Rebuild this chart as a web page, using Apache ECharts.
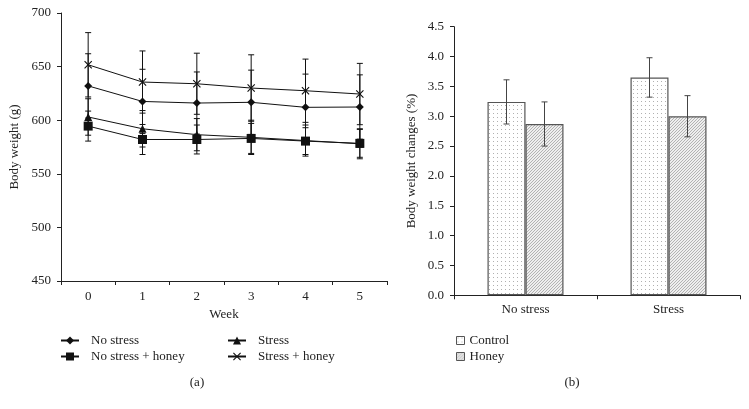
<!DOCTYPE html>
<html>
<head>
<meta charset="utf-8">
<script src="https://cdn.jsdelivr.net/npm/echarts@6/dist/echarts.min.js"></script>
<style>html,body{margin:0;padding:0;background:#fff}#c{width:749px;height:409px}</style>
</head>
<body>
<div id="c"></div>
<script>
// ---- Data (a) ----
const weeks = ['0', '1', '2', '3', '4', '5'];
const noStress = [632, 617.5, 616, 616.7, 612, 612.3];
const noStressErr = [30, 30, 29, 30, 31, 30];
const stress = [603, 592, 586.5, 584, 581, 578];
const stressErr = [17, 17, 15, 16, 14.5, 14];
const noStressHoney = [594.5, 582, 582, 583, 580.5, 578.4];
const noStressHoneyErr = [14, 14, 13.5, 14, 12.5, 13];
const stressHoney = [651.7, 635.6, 634, 630, 627.5, 624.4];
const stressHoneyErr = [30, 29, 28.5, 31, 29.5, 28.6];

// ---- Data (b) ----
const groups = ['No stress', 'Stress'];
const control = [3.24, 3.65];
const controlErr = [0.37, 0.33];
const honey = [2.87, 3.00];
const honeyErr = [0.37, 0.345];

const FONT = 'Liberation Serif';
const TXT = '#222';

function makeDots() {
  const c = document.createElement('canvas'); c.width = 4; c.height = 4;
  const g = c.getContext('2d');
  g.fillStyle = '#fff'; g.fillRect(0, 0, 4, 4);
  g.fillStyle = '#b0b0b0'; g.fillRect(1, 1, 1, 1);
  return c;
}
function makeHatch() {
  const s = 3;
  const c = document.createElement('canvas'); c.width = s; c.height = s;
  const g = c.getContext('2d');
  g.fillStyle = '#eeeeee'; g.fillRect(0, 0, s, s);
  g.strokeStyle = '#a2a2a2'; g.lineWidth = 0.8;
  g.beginPath();
  g.moveTo(-1, s + 1); g.lineTo(s + 1, -1);
  g.moveTo(-1 - s, s + 1); g.lineTo(1, -1);
  g.moveTo(s - 1, 2 * s + 1); g.lineTo(2 * s + 1, s - 1);
  g.stroke();
  return c;
}
const dotFill = { image: makeDots(), repeat: 'repeat' };
const hatchFill = { image: makeHatch(), repeat: 'repeat' };

const xSym = 'path://M0,1L1,0L5,4L9,0L10,1L6,5L10,9L9,10L5,6L1,10L0,9L4,5Z';

function errData(vals, errs) {
  return vals.map((v, i) => [i, v + errs[i], v - errs[i]]);
}
function errRender(offset, color, cap) {
  return function (params, api) {
    const i = api.value(0);
    const p1 = api.coord([i, api.value(1)]);
    const p2 = api.coord([i, api.value(2)]);
    const cx = p1[0] + offset;
    const st = { stroke: color, lineWidth: 1 };
    return {
      type: 'group', children: [
        { type: 'line', shape: { x1: cx, y1: p1[1], x2: cx, y2: p2[1] }, style: st },
        { type: 'line', shape: { x1: cx - cap, y1: p1[1], x2: cx + cap, y2: p1[1] }, style: st },
        { type: 'line', shape: { x1: cx - cap, y1: p2[1], x2: cx + cap, y2: p2[1] }, style: st }
      ]
    };
  };
}
function lineSeries(name, data, symbol, size) {
  return {
    name, type: 'line', xAxisIndex: 0, yAxisIndex: 0, data,
    symbol, symbolSize: size, z: 3,
    lineStyle: { color: '#111', width: 1 },
    itemStyle: { color: '#111' },
    emphasis: { disabled: true }, animation: false
  };
}
function errSeries(vals, errs, xi, yi, offset, color, cap) {
  return {
    type: 'custom', xAxisIndex: xi, yAxisIndex: yi,
    data: errData(vals, errs), renderItem: errRender(offset, color, cap),
    encode: { x: 0, y: [1, 2] }, z: 4, silent: true, animation: false
  };
}

const axisLine = { show: true, lineStyle: { color: '#222', width: 1 } };
const axisTick = { show: true, inside: false, length: 4, lineStyle: { color: '#222' } };
const labelStyle = { color: TXT, fontFamily: FONT, fontSize: 13 };
const BW = 38;

const chart = echarts.init(document.getElementById('c'), null, { renderer: 'canvas' });
chart.setOption({
  animation: false,
  backgroundColor: '#fff',
  textStyle: { fontFamily: FONT },
  grid: [
    { left: 61, top: 13, width: 326, height: 268 },
    { left: 454, top: 26.7, width: 286, height: 268.6 }
  ],
  xAxis: [
    {
      gridIndex: 0, type: 'category', data: weeks, boundaryGap: true,
      axisLine, axisTick, axisLabel: Object.assign({ margin: 9 }, labelStyle),
      splitLine: { show: false },
      name: 'Week', nameLocation: 'middle', nameGap: 27,
      nameTextStyle: labelStyle
    },
    {
      gridIndex: 1, type: 'category', data: groups, boundaryGap: true,
      axisLine, axisTick, axisLabel: Object.assign({ margin: 8 }, labelStyle),
      splitLine: { show: false }
    }
  ],
  yAxis: [
    {
      gridIndex: 0, type: 'value', min: 450, max: 700, interval: 50,
      axisLine, axisTick, axisLabel: Object.assign({ margin: 10 }, labelStyle),
      splitLine: { show: false },
      name: 'Body weight (g)', nameLocation: 'middle', nameRotate: 90, nameGap: 40,
      nameTextStyle: labelStyle
    },
    {
      gridIndex: 1, type: 'value', min: 0, max: 4.5, interval: 0.5,
      axisLine, axisTick,
      axisLabel: Object.assign({ margin: 10, formatter: v => v.toFixed(1) }, labelStyle),
      splitLine: { show: false },
      name: 'Body weight changes (%)', nameLocation: 'middle', nameRotate: 90, nameGap: 36,
      nameTextStyle: labelStyle
    }
  ],
  legend: [
    {
      data: ['No stress', 'No stress + honey'], orient: 'vertical', left: 60, top: 334,
      padding: 0, itemGap: 3, itemWidth: 18, itemHeight: 10,
      textStyle: Object.assign({ padding: [0, 0, 0, 7] }, labelStyle), selectedMode: false
    },
    {
      data: ['Stress', 'Stress + honey'], orient: 'vertical', left: 227, top: 334,
      padding: 0, itemGap: 3, itemWidth: 18, itemHeight: 10,
      textStyle: Object.assign({ padding: [0, 0, 0, 7] }, labelStyle), selectedMode: false
    },
    {
      data: ['Control', 'Honey'], orient: 'vertical', left: 456, top: 334,
      padding: 0, itemGap: 3, itemWidth: 8, itemHeight: 8, icon: 'rect',
      itemStyle: { borderColor: '#555', borderWidth: 1 },
      textStyle: Object.assign({ padding: [0, 0, 0, 0] }, labelStyle), selectedMode: false
    }
  ],
  title: [
    { text: '(a)', left: 197, top: 376, textAlign: 'center', padding: 0,
      textStyle: { color: TXT, fontFamily: FONT, fontSize: 13, fontWeight: 'normal' } },
    { text: '(b)', left: 572, top: 376, textAlign: 'center', padding: 0,
      textStyle: { color: TXT, fontFamily: FONT, fontSize: 13, fontWeight: 'normal' } }
  ],
  series: [
    errSeries(noStress, noStressErr, 0, 0, 0, '#111', 3),
    errSeries(stress, stressErr, 0, 0, 0, '#111', 3),
    errSeries(noStressHoney, noStressHoneyErr, 0, 0, 0, '#111', 3),
    errSeries(stressHoney, stressHoneyErr, 0, 0, 0, '#111', 3),
    lineSeries('No stress', noStress, 'diamond', 8),
    lineSeries('Stress', stress, 'triangle', 8),
    lineSeries('No stress + honey', noStressHoney, 'rect', 9),
    lineSeries('Stress + honey', stressHoney, xSym, 8),
    {
      name: 'Control', type: 'bar', xAxisIndex: 1, yAxisIndex: 1, data: control,
      barWidth: BW, barGap: '0%',
      itemStyle: { color: dotFill, borderColor: '#555', borderWidth: 1.2 },
      emphasis: { disabled: true }
    },
    {
      name: 'Honey', type: 'bar', xAxisIndex: 1, yAxisIndex: 1, data: honey,
      barWidth: BW, barGap: '0%',
      itemStyle: { color: hatchFill, borderColor: '#555', borderWidth: 1.2 },
      emphasis: { disabled: true }
    },
    errSeries(control, controlErr, 1, 1, -BW / 2, '#444', 3),
    errSeries(honey, honeyErr, 1, 1, BW / 2, '#444', 3)
  ]
});
</script>
</body>
</html>
